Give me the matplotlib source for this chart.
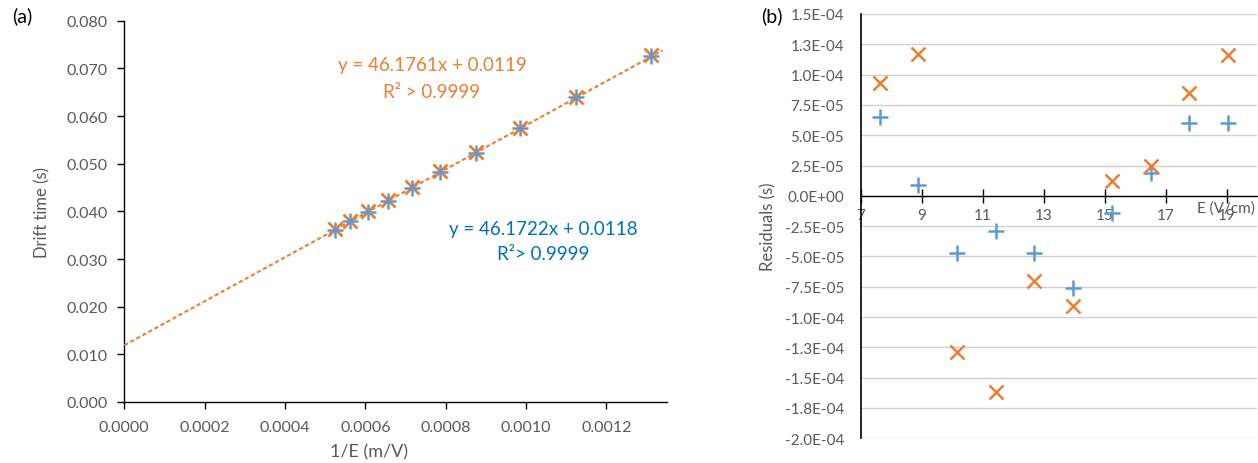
import matplotlib
matplotlib.use("Agg")
import matplotlib.pyplot as plt
import numpy as np

plt.rcParams['font.family'] = ['Lato', 'DejaVu Sans']

# ---- data ----
E_field = [7.62, 8.89, 10.16, 11.43, 12.70, 13.97, 15.24, 16.51, 17.78, 19.05]   # V/cm
inv_E = [0.001312, 0.001125, 0.000984, 0.000875, 0.000787, 0.000716,
         0.000656, 0.000606, 0.000562, 0.000525]                                 # m/V
drift_orange = [0.0727, 0.0640, 0.0575, 0.0524, 0.0484, 0.0451, 0.0423, 0.0400, 0.0380, 0.0362]
drift_blue = [0.0726, 0.0639, 0.0574, 0.0523, 0.0483, 0.0450, 0.0422, 0.0399, 0.0379, 0.0361]
fit_orange = (46.1761, 0.0119)
fit_blue = (46.1722, 0.0118)
res_orange = [9.3e-5, 1.17e-4, -1.29e-4, -1.62e-4, -7.0e-5, -9.1e-5, 1.2e-5, 2.5e-5, 8.5e-5, 1.16e-4]
res_blue = [6.5e-5, 9e-6, -4.7e-5, -2.9e-5, -4.7e-5, -7.6e-5, -1.4e-5, 1.9e-5, 6.0e-5, 6.0e-5]

left_xticks = [0.0, 0.0002, 0.0004, 0.0006, 0.0008, 0.0010, 0.0012]
left_xlabels = ["0.0000", "0.0002", "0.0004", "0.0006", "0.0008", "0.0010", "0.0012"]
left_yticks = [0.0, 0.01, 0.02, 0.03, 0.04, 0.05, 0.06, 0.07, 0.08]
left_ylabels = ["0.000", "0.010", "0.020", "0.030", "0.040", "0.050", "0.060", "0.070", "0.080"]
right_xticks = [7, 9, 11, 13, 15, 17, 19]
right_yticks = [1.5e-4, 1.25e-4, 1.0e-4, 7.5e-5, 5.0e-5, 2.5e-5, 0.0, -2.5e-5, -5.0e-5,
                -7.5e-5, -1.0e-4, -1.25e-4, -1.5e-4, -1.75e-4, -2.0e-4]
right_ylabels = ["1.5E-04", "1.3E-04", "1.0E-04", "7.5E-05", "5.0E-05", "2.5E-05", "0.0E+00",
                 "-2.5E-05", "-5.0E-05", "-7.5E-05", "-1.0E-04", "-1.3E-04", "-1.5E-04",
                 "-1.8E-04", "-2.0E-04"]

ORANGE = "#ED7D31"
BLUE = "#5B9BD5"
BLUE_TXT = "#0070C0"
GRAY = "#595959"

W, H = 1258, 464
fig = plt.figure(figsize=(W / 100, H / 100), dpi=100)

def fx(px):
    return px / W

def fy(py):
    return 1 - py / H

# ---- panel (a) ----
axL = fig.add_axes([fx(124.3), fy(403), fx(666.7 - 124.3), (403 - 21.7) / H])
axL.set_xlim(0, 0.00135)
axL.set_ylim(0, 0.08)
for s in ("top", "right"):
    axL.spines[s].set_visible(False)
for s in ("left", "bottom"):
    axL.spines[s].set_color("black")
    axL.spines[s].set_linewidth(1.0)

xline = np.array([0.0, 0.00134])
# the blue trend line lies hidden beneath the orange one
axL.plot(xline, fit_orange[0] * xline + fit_orange[1], color=ORANGE, lw=1.5,
         linestyle=(0, (2, 1.3)), zorder=3)
axL.plot(inv_E, drift_orange, linestyle="none", marker="x", ms=10.5, mew=2.0,
         color=ORANGE, zorder=4, clip_on=False)
axL.plot(inv_E, drift_blue, linestyle="none", marker="+", ms=11, mew=1.8,
         color=BLUE, zorder=5, clip_on=False)

axL.set_xticks(left_xticks)
axL.set_xticklabels(left_xlabels)
axL.set_yticks(left_yticks)
axL.set_yticklabels(left_ylabels)
axL.tick_params(axis="both", direction="out", length=5, width=1.0, color="black",
                labelcolor=GRAY, labelsize=11.5)
axL.tick_params(axis="y", pad=7)
axL.tick_params(axis="x", pad=8)

fig.text(fx(42), fy(212), "Drift time (s)", rotation=90, ha="center", va="center",
         color=GRAY, fontsize=12)
fig.text(fx(369), fy(452), "1/E (m/V)", ha="center", va="center", color=GRAY, fontsize=13)
fig.text(fx(22), fy(16), "(a)", ha="center", va="center", color="black", fontsize=14)

fig.text(fx(432), fy(65), "y = 46.1761x + 0.0119", ha="center", va="center",
         color=ORANGE, fontsize=13.5)
fig.text(fx(432), fy(92), "R² > 0.9999", ha="center", va="center",
         color=ORANGE, fontsize=13.5)
fig.text(fx(543), fy(230), "y = 46.1722x + 0.0118", ha="center", va="center",
         color=BLUE_TXT, fontsize=13.5)
fig.text(fx(543), fy(254), "R²> 0.9999", ha="center", va="center",
         color=BLUE_TXT, fontsize=13.5)

# ---- panel (b) ----
axR = fig.add_axes([fx(860.7), fy(439.3), fx(1257 - 860.7), (439.3 - 15) / H])
axR.set_xlim(7, 20)
axR.set_ylim(-2.0e-4, 1.5e-4)
for s in ("top", "right"):
    axR.spines[s].set_visible(False)
axR.spines["bottom"].set_position(("data", 0))
axR.spines["bottom"].set_color("black")
axR.spines["bottom"].set_linewidth(1.0)
axR.spines["left"].set_color("black")
axR.spines["left"].set_linewidth(1.2)
axR.spines["bottom"].set_zorder(3)

axR.set_yticks(right_yticks)
axR.set_yticklabels(right_ylabels)
axR.set_xticks(right_xticks)
axR.set_xticklabels([str(v) for v in right_xticks])
axR.grid(axis="y", color="#D0D0D0", lw=1.0, zorder=0)
axR.set_axisbelow(True)
axR.tick_params(axis="y", length=0, pad=12, labelcolor=GRAY, labelsize=11)
axR.tick_params(axis="x", direction="inout", length=10, width=1.0, color="black",
                pad=4, labelcolor=GRAY, labelsize=11)

axR.plot(E_field, res_blue, linestyle="none", marker="+", ms=11, mew=1.8,
         color=BLUE, zorder=4)
axR.plot(E_field, res_orange, linestyle="none", marker="x", ms=10, mew=1.8,
         color=ORANGE, zorder=5)

fig.text(fx(1255), fy(209), "E (V/cm)", ha="right", va="center", color=GRAY, fontsize=11)
fig.text(fx(768), fy(227), "Residuals (s)", rotation=90, ha="center", va="center",
         color=GRAY, fontsize=12)
fig.text(fx(772), fy(16), "(b)", ha="center", va="center", color="black", fontsize=14)

fig.savefig("out.png", dpi=100)
